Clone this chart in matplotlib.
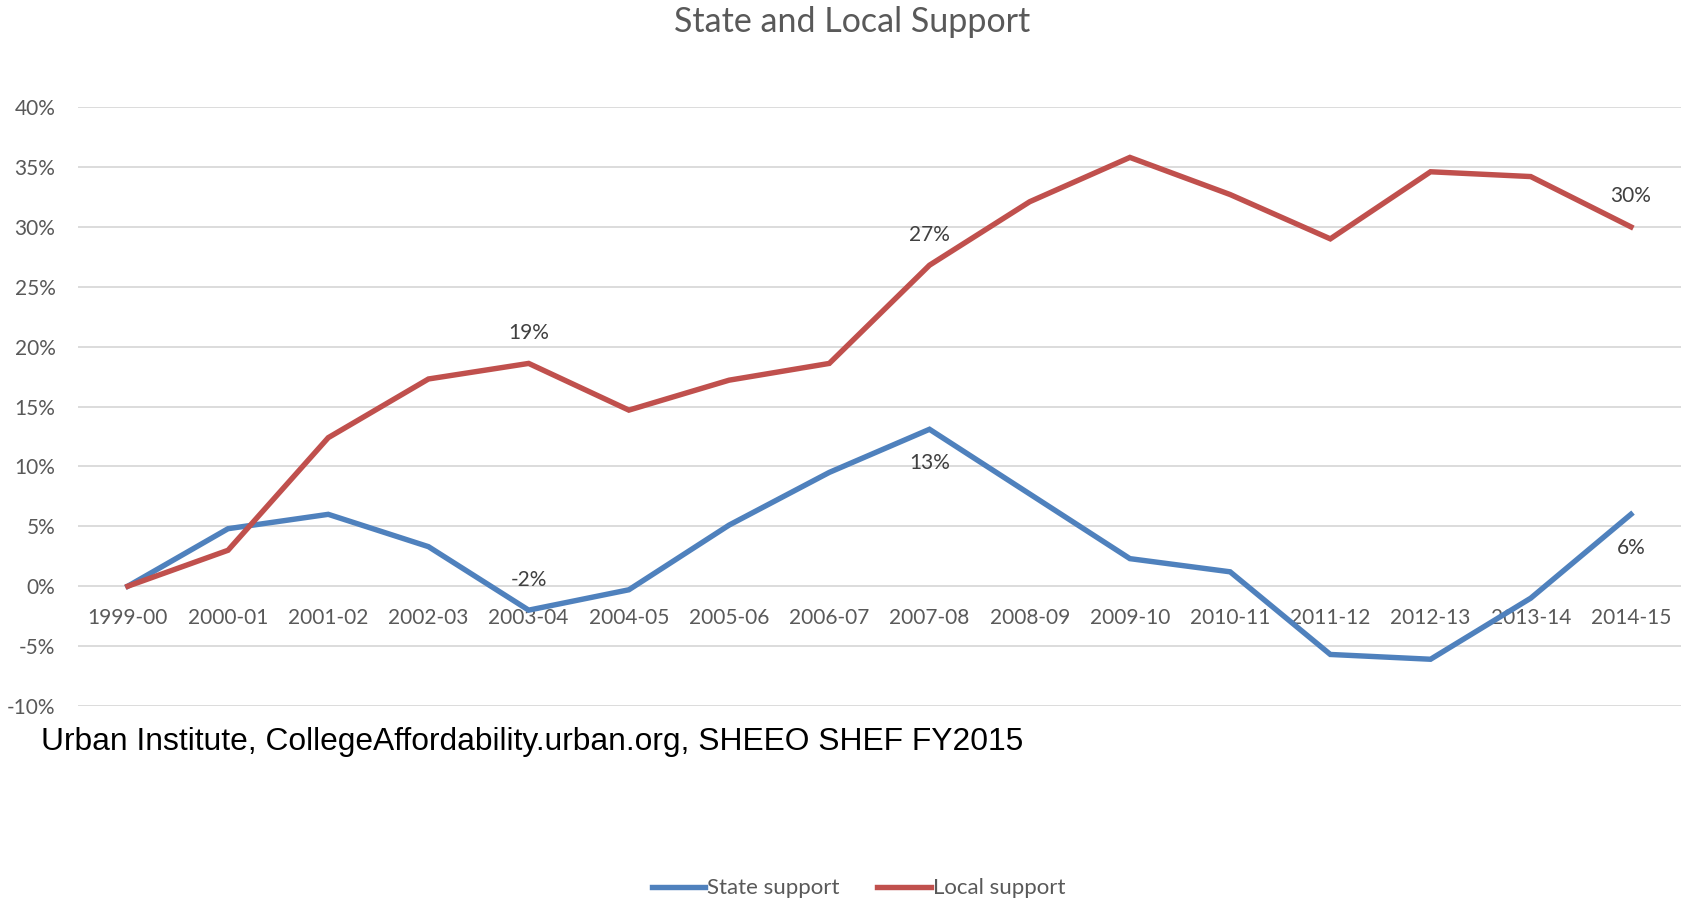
import matplotlib
matplotlib.use("Agg")
import matplotlib.pyplot as plt
from matplotlib.ticker import FuncFormatter, MultipleLocator

years = ["1999-00", "2000-01", "2001-02", "2002-03", "2003-04", "2004-05", "2005-06",
         "2006-07", "2007-08", "2008-09", "2009-10", "2010-11", "2011-12", "2012-13",
         "2013-14", "2014-15"]
state_support = [0.0, 4.8, 6.0, 3.3, -2.0, -0.3, 5.1, 9.5, 13.1, 7.7, 2.3, 1.2, -5.7, -6.1, -1.0, 6.0]
local_support = [0.0, 3.0, 12.4, 17.3, 18.6, 14.7, 17.2, 18.6, 26.8, 32.1, 35.8, 32.7, 29.0, 34.6, 34.2, 30.0]
# (index, text, above?)
state_labels = [(4, "-2%", True), (8, "13%", False), (15, "6%", False)]
local_labels = [(4, "19%", True), (8, "27%", True), (15, "30%", True)]

BLUE = "#4f81bd"
RED = "#c0504d"
GRAY = "#595959"
FONT = "Lato"

fig = plt.figure(figsize=(16.9, 9), dpi=100)
ax = fig.add_axes([0.046, 0.2156, 0.9487, 0.6654])

x = list(range(len(years)))
ax.plot(x, state_support, color=BLUE, lw=3.9, label="State support", solid_joinstyle="miter")
ax.plot(x, local_support, color=RED, lw=3.9, label="Local support", solid_joinstyle="miter")

ax.set_xlim(-0.5, len(years) - 0.5)
ax.set_ylim(-10, 40)
ax.yaxis.set_major_locator(MultipleLocator(5))
ax.yaxis.set_major_formatter(FuncFormatter(lambda v, p: f"{v:.0f}%"))
ax.grid(axis="y", color="#d9d9d9", lw=1.3)
ax.set_axisbelow(True)
for s in ["top", "right", "left"]:
    ax.spines[s].set_visible(False)
ax.spines["bottom"].set_position(("data", 0))
ax.spines["bottom"].set_visible(False)
ax.set_xticks(x)
ax.set_xticklabels(years)
ax.tick_params(axis="x", length=0, pad=15.5, labelsize=15, labelcolor=GRAY)
ax.tick_params(axis="y", length=0, pad=16, labelsize=15, labelcolor=GRAY)
for lab in ax.get_xticklabels() + ax.get_yticklabels():
    lab.set_fontfamily(FONT)

for series, labels in ((state_support, state_labels), (local_support, local_labels)):
    for i, txt, above in labels:
        ax.annotate(txt, (i, series[i]), xytext=(0, 22 if above else -24.5),
                    textcoords="offset points", ha="center", va="center",
                    fontsize=15, color="#404040", fontfamily=FONT)

fig.text(0.5045, 0.976, "State and Local Support", ha="center", va="center",
         fontsize=24.5, color=GRAY, fontfamily=FONT)
fig.text(0.0243, 0.176, "Urban Institute, CollegeAffordability.urban.org, SHEEO SHEF FY2015",
         ha="left", va="center", fontsize=22.9, color="black", fontfamily="Liberation Sans")

leg = fig.legend(loc="center", bbox_to_anchor=(0.508, 0.013), ncol=2, frameon=False,
                 prop={"family": FONT, "size": 16}, handlelength=2.4, handletextpad=0.1,
                 columnspacing=1.7)
for t in leg.get_texts():
    t.set_color(GRAY)

fig.savefig("out.png", dpi=100)
